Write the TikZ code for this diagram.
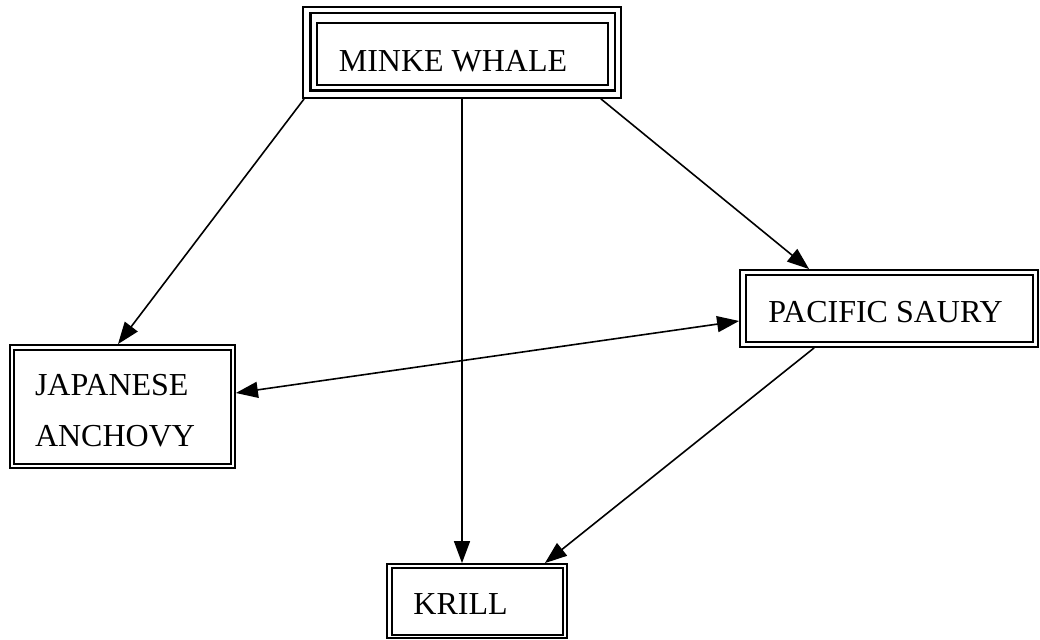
\documentclass[tikz,border=0pt]{standalone}
\usepackage{fontspec}
\setmainfont{Liberation Serif}
\usetikzlibrary{arrows.meta,calc}
\begin{document}
\begin{tikzpicture}[x=1pt,y=1pt,
  box/.style={draw, line width=1.8pt, inner sep=0pt},
  lbl/.style={font=\fontsize{32}{51}\selectfont, inner sep=0pt},
  innerline/.style={line width=2pt},
  conn/.style={line width=1.6pt, -{Triangle[length=22pt,width=16pt]}},
  both/.style={line width=1.6pt, {Triangle[length=22pt,width=16pt]}-{Triangle[length=22pt,width=16pt]}}
  ]
\useasboundingbox (0,0) rectangle (1040,639);
% boxes
\node[box, minimum width=318pt, minimum height=91pt] (mw) at (462,586.5) {};
\node[box, minimum width=225pt, minimum height=123pt] (ja) at (122.5,232.5) {};
\node[box, minimum width=298pt, minimum height=77pt] (ps) at (889,330.5) {};
\node[box, minimum width=180pt, minimum height=74pt] (kr) at (477,38) {};
% inner borders
\draw[line width=2.8pt] ($(mw.south west)+(8,8)$) rectangle ($(mw.north east)+(-7,-7)$);
\draw[line width=1.4pt] ($(mw.south west)+(15,14)$) rectangle ($(mw.north east)+(-14,-17)$);
\draw[innerline] ($(ja.south west)+(5,5)$) rectangle ($(ja.north east)+(-5,-6)$);
\draw[innerline] ($(ps.south west)+(7,6)$) rectangle ($(ps.north east)+(-6,-6)$);
\draw[innerline] ($(kr.south west)+(6,4)$) rectangle ($(kr.north east)+(-5,-5)$);
% labels
\node[lbl] (mwt) at ($(mw)+(-9,-9)$) {MINKE WHALE};
\node[lbl, align=left] (jat) at ($(ja)+(-7.5,-4)$) {JAPANESE\\ANCHOVY};
\node[lbl] (pst) at ($(ps)+(-3.5,-3.5)$) {PACIFIC SAURY};
\node[lbl] (krt) at ($(kr)+(-16.5,-3)$) {KRILL};
% connectors
\draw[conn] ($(mw.south west)+(2,0)$) -- ($(ja.north)+(-4.5,0)$);
\draw[conn] (mw.south) -- (mw.south |- kr.north);
\draw[conn] ($(mw.south east)+(-21,0)$) -- ($(ps.north west)+(70,0)$);
\draw[both] ($(ps.west)+(0,-12.5)$) -- ($(ja.east)+(0,13.5)$);
\draw[conn] ($(ps.south west)+(75,0)$) -- ($(kr.north east)+(-23,0)$);
\end{tikzpicture}
\end{document}
